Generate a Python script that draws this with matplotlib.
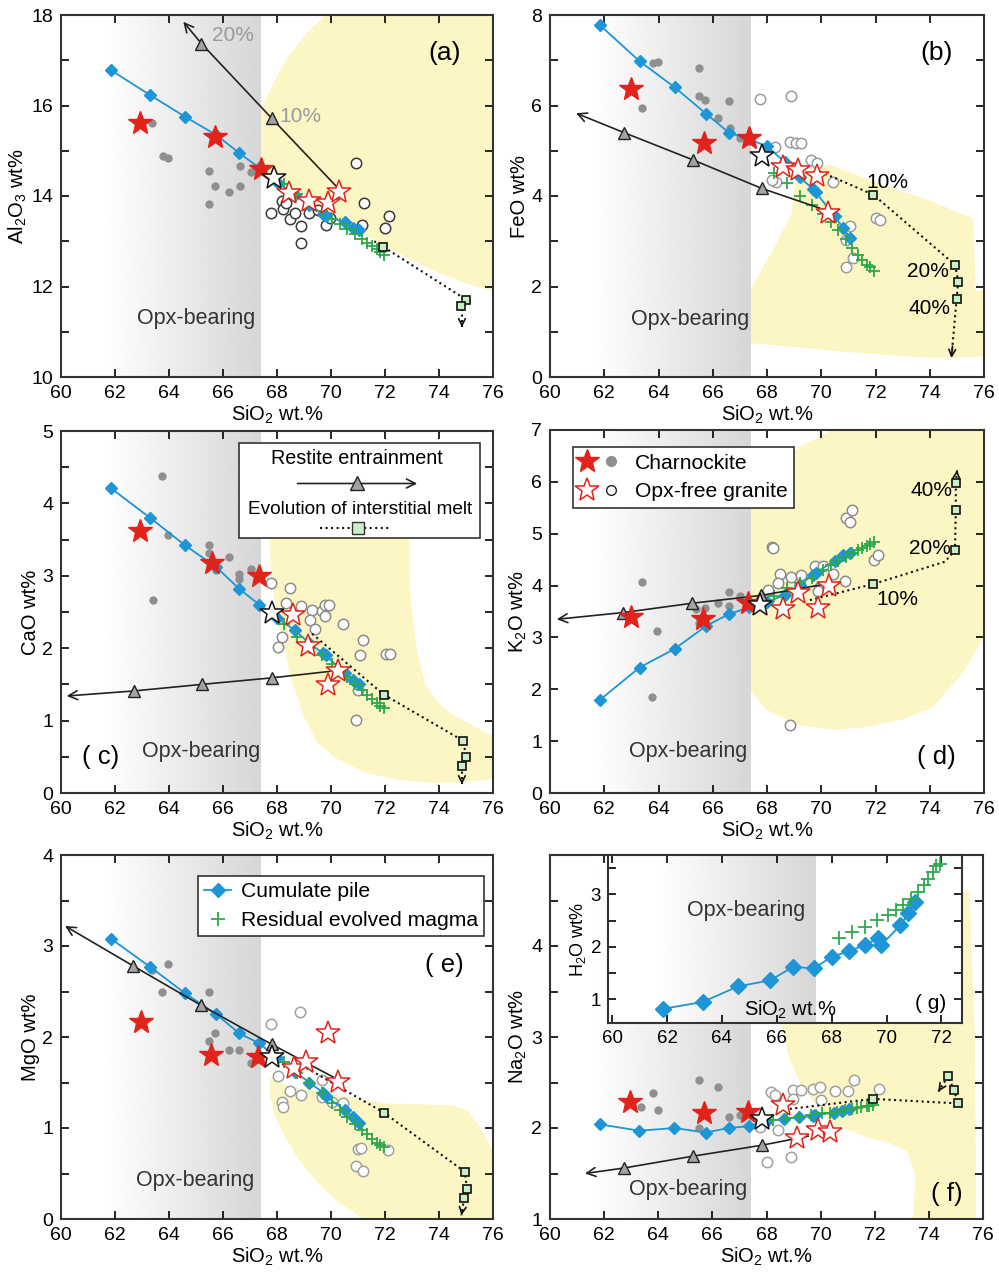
import numpy as np
import matplotlib
matplotlib.use('Agg')
import matplotlib.pyplot as plt
from matplotlib.patches import Polygon, Rectangle
from matplotlib.lines import Line2D
from matplotlib.legend_handler import HandlerTuple
from matplotlib.ticker import MultipleLocator

plt.rcParams['font.family'] = ['Liberation Sans', 'DejaVu Sans']
plt.rcParams['mathtext.fontset'] = 'custom'
plt.rcParams['mathtext.rm'] = 'Liberation Sans'
plt.rcParams['mathtext.it'] = 'Liberation Sans'

# ---- shared SiO2 values ----
cum_x = [61.85, 63.3, 64.6, 65.75, 66.6, 67.35, 68.0, 68.65, 69.2, 69.7, 69.8, 70.5, 70.8, 71.05]
res_x = [68.25, 68.75, 69.2, 69.65, 70.05, 70.35, 70.6, 70.9, 71.15, 71.35, 71.5, 71.7, 71.8, 71.95]

# ---- (a) Al2O3 ----
a_cum = [16.78, 16.23, 15.75, 15.35, 14.95, 14.62, 14.3, 14.03, 13.8, 13.6, 13.55, 13.42, 13.3, 13.25]
a_res = [14.27, 14.05, 13.85, 13.66, 13.5, 13.38, 13.28, 13.16, 13.05, 12.97, 12.9, 12.82, 12.77, 12.7]
a_chx = [62.92, 65.7, 67.4]
a_chy = [15.62, 15.31, 14.59]
a_cdx = [63.38, 63.79, 63.97, 65.49, 65.49, 65.7, 66.23, 66.62, 66.62, 67.02]
a_cdy = [15.62, 14.89, 14.84, 14.55, 13.83, 14.23, 14.08, 14.67, 14.23, 14.52]
a_grx = [68.44, 69.19, 69.89, 70.3]
a_gry = [14.06, 13.88, 13.84, 14.08]
a_gdx = [67.76, 68.17, 68.23, 68.33, 68.48, 68.66, 68.9, 68.9, 69.2, 69.52, 69.83, 69.95, 70.92, 71.21, 71.13, 71.99, 72.15]
a_gdy = [13.62, 13.9, 13.71, 13.84, 13.5, 13.62, 12.97, 13.34, 13.62, 13.69, 13.36, 13.51, 14.72, 13.84, 13.36, 13.29, 13.55]
a_ref = [67.9, 14.39]
a_rest_x = [70.2, 67.8, 65.2, 64.53]
a_rest_y = [14.21, 15.72, 17.37, 17.85]
a_melt_x = [71.6, 71.93, 74.9, 74.85, 74.85]
a_melt_y = [13.0, 12.88, 11.75, 11.5, 11.1]
a_sq_x = [71.93, 75.0, 74.83]
a_sq_y = [12.88, 11.71, 11.56]
a_yel_x = [69.8, 69.1, 68.5, 68.0, 67.6, 67.4, 67.4, 68.5, 70.0, 71.0, 72.0, 73.0, 74.0, 75.0, 76.0, 76.0]
a_yel_y = [18.0, 17.6, 17.15, 16.65, 16.15, 15.9, 14.6, 14.2, 13.6, 13.22, 12.88, 12.58, 12.3, 12.07, 11.9, 18.0]

# ---- (b) FeO ----
b_cum = [7.77, 6.98, 6.4, 5.82, 5.4, 5.25, 5.1, 4.75, 4.42, 4.15, 4.08, 3.55, 3.3, 3.08]
b_res = [4.5, 4.28, 4.0, 3.8, 3.6, 3.42, 3.25, 3.05, 2.85, 2.7, 2.58, 2.48, 2.42, 2.35]
b_chx = [62.99, 65.68, 67.35]
b_chy = [6.36, 5.17, 5.28]
b_cdx = [63.38, 63.78, 63.99, 65.49, 65.49, 65.71, 66.2, 66.61, 66.63, 67.0]
b_cdy = [5.94, 6.93, 6.97, 6.82, 6.2, 6.12, 5.72, 6.09, 5.5, 5.28]
b_grx = [68.6, 69.15, 69.86, 70.26]
b_gry = [4.65, 4.58, 4.44, 3.62]
b_gdx = [67.76, 68.87, 68.84, 69.07, 69.27, 68.3, 68.35, 68.17, 69.64, 69.83, 70.44, 72.01, 72.16, 71.06, 70.93, 71.18, 70.93]
b_gdy = [6.14, 6.2, 5.2, 5.18, 5.17, 5.09, 4.32, 4.36, 4.8, 4.72, 4.3, 3.51, 3.47, 3.33, 3.03, 2.63, 2.44]
b_ref = [67.8, 4.89]
b_rest_x = [69.95, 67.8, 65.26, 62.73, 60.96]
b_rest_y = [3.73, 4.17, 4.8, 5.4, 5.83]
b_melt_x = [69.95, 71.92, 74.93, 75.05, 74.99, 74.8]
b_melt_y = [4.54, 4.03, 2.48, 2.11, 1.73, 0.42]
b_sq_x = [71.92, 74.93, 75.05, 74.99]
b_sq_y = [4.03, 2.48, 2.11, 1.73]
b_yel_x = [67.4, 67.4, 68.3, 68.9, 69.0, 69.3, 70.3, 72.0, 74.0, 75.6, 75.7, 76.0, 76.0, 74.0, 71.0]
b_yel_y = [0.75, 1.95, 2.9, 3.6, 4.2, 4.5, 4.7, 4.3, 3.9, 3.5, 1.9, 1.9, 0.45, 0.42, 0.55]

# ---- (c) CaO ----
c_cum = [4.21, 3.8, 3.42, 3.12, 2.82, 2.6, 2.42, 2.25, 2.07, 1.93, 1.9, 1.66, 1.56, 1.5]
c_res = [2.34, 2.15, 2.0, 1.9, 1.78, 1.7, 1.6, 1.5, 1.42, 1.35, 1.3, 1.24, 1.2, 1.17]
c_chx = [62.92, 65.58, 67.34]
c_chy = [3.62, 3.17, 3.0]
c_cdx = [63.75, 63.42, 63.97, 65.49, 65.49, 65.74, 66.23, 66.6, 66.6, 67.02]
c_cdy = [4.38, 2.67, 3.57, 3.43, 3.31, 3.08, 3.26, 3.02, 2.96, 3.1]
c_grx = [68.6, 69.15, 70.26, 69.89]
c_gry = [2.46, 2.03, 1.68, 1.49]
c_gdx = [67.76, 68.48, 68.33, 68.9, 69.28, 69.22, 69.4, 69.65, 69.77, 69.93, 69.77, 70.45, 68.2, 68.04, 71.19, 71.09, 72.02, 72.18, 70.94, 71.0]
c_gdy = [2.9, 2.83, 2.63, 2.58, 2.53, 2.39, 2.27, 2.52, 2.6, 2.59, 2.44, 2.34, 2.15, 2.01, 2.12, 1.91, 1.92, 1.92, 1.01, 1.42]
c_ref = [67.8, 2.48]
c_rest_x = [69.96, 67.8, 65.21, 62.71, 60.21]
c_rest_y = [1.68, 1.59, 1.5, 1.41, 1.34]
c_melt_x = [69.3, 71.95, 74.9, 75.0, 74.85, 74.85]
c_melt_y = [2.2, 1.36, 0.72, 0.5, 0.37, 0.12]
c_sq_x = [71.95, 74.9, 75.0, 74.85]
c_sq_y = [1.36, 0.72, 0.5, 0.37]
c_yel_x = [67.7, 67.75, 67.85, 68.05, 68.5, 69.0, 69.5, 70.3, 71.3, 72.5, 73.8, 75.0, 76.0,
           76.0, 75.3, 74.5, 74.0, 73.5, 73.2, 73.0, 72.9, 72.9]
c_yel_y = [3.8, 3.2, 2.8, 2.39, 1.6, 1.05, 0.69, 0.45, 0.28, 0.18, 0.14, 0.15, 0.2,
           0.78, 0.92, 1.08, 1.24, 1.5, 1.93, 2.5, 3.0, 3.8]

# ---- (d) K2O ----
d_cum = [1.8, 2.42, 2.78, 3.22, 3.45, 3.58, 3.68, 3.82, 4.02, 4.2, 4.25, 4.48, 4.58, 4.63]
d_res = [3.8, 3.95, 4.05, 4.15, 4.3, 4.4, 4.48, 4.55, 4.62, 4.68, 4.72, 4.77, 4.8, 4.84]
d_chx = [62.99, 65.65, 67.31]
d_chy = [3.4, 3.35, 3.66]
d_cdx = [63.38, 63.93, 63.75, 65.4, 65.71, 65.49, 66.2, 66.61, 66.61, 67.0]
d_cdy = [4.06, 3.13, 1.86, 3.55, 3.56, 3.28, 3.66, 3.87, 3.61, 3.8]
d_grx = [68.6, 69.13, 69.89, 70.29]
d_gry = [3.55, 3.85, 3.56, 3.99]
d_gdx = [68.17, 68.23, 68.48, 68.42, 68.87, 69.27, 69.77, 70.07, 70.44, 69.95, 69.89, 70.93, 71.06, 71.12, 70.87, 71.94, 72.1, 68.85, 68.05]
d_gdy = [4.75, 4.72, 4.23, 4.05, 4.17, 4.21, 4.37, 4.37, 4.23, 3.98, 3.89, 5.3, 5.23, 5.46, 4.08, 4.5, 4.59, 1.32, 3.92]
d_ref = [67.74, 3.63]
d_rest_x = [69.95, 67.78, 65.25, 62.7, 60.25]
d_rest_y = [4.01, 3.81, 3.66, 3.48, 3.35]
d_melt_x = [69.58, 71.92, 74.56, 74.93, 74.96, 74.96, 75.01]
d_melt_y = [3.72, 4.03, 4.46, 4.68, 5.45, 5.97, 6.23]
d_sq_x = [71.92, 74.93, 74.96, 74.96]
d_sq_y = [4.03, 4.68, 5.45, 5.97]
d_yel_x = [70.4, 69.3, 68.4, 67.8, 67.4, 67.4, 68.0, 69.2, 70.5, 71.7, 73.0, 74.1, 75.2, 76.0, 76.0]
d_yel_y = [7.0, 6.7, 6.38, 5.95, 5.5, 1.95, 1.6, 1.3, 1.22, 1.27, 1.42, 1.65, 2.3, 3.0, 7.0]

# ---- (e) MgO ----
e_cum = [3.08, 2.77, 2.48, 2.25, 2.04, 1.93, 1.77, 1.62, 1.5, 1.39, 1.35, 1.2, 1.12, 1.05]
e_res = [1.72, 1.6, 1.5, 1.38, 1.28, 1.2, 1.12, 1.04, 0.98, 0.93, 0.88, 0.84, 0.81, 0.79]
e_chx = [62.96, 65.54, 67.28]
e_chy = [2.16, 1.8, 1.78]
e_cdx = [63.36, 63.97, 63.75, 65.49, 65.49, 65.7, 66.23, 66.6, 66.6, 67.02]
e_cdy = [2.74, 2.8, 2.5, 2.5, 1.96, 2.04, 1.86, 1.86, 2.06, 1.71]
e_grx = [68.64, 69.09, 69.89, 70.26]
e_gry = [1.66, 1.73, 2.04, 1.51]
e_gdx = [67.76, 68.85, 68.02, 68.48, 68.2, 68.23, 68.9, 69.65, 70.02, 70.45, 71.0, 71.1, 70.92, 71.19, 72.11, 69.65]
e_gdy = [2.14, 2.27, 1.57, 1.41, 1.29, 1.23, 1.36, 1.34, 1.29, 1.27, 0.77, 0.78, 0.58, 0.53, 0.76, 1.53]
e_ref = [67.8, 1.78]
e_rest_x = [70.08, 67.8, 65.18, 62.68, 60.15]
e_rest_y = [1.56, 1.92, 2.35, 2.78, 3.22]
e_melt_x = [69.09, 71.95, 74.95, 75.04, 74.93, 74.83]
e_melt_y = [1.66, 1.17, 0.52, 0.33, 0.23, 0.04]
e_sq_x = [71.95, 74.95, 75.04, 74.93]
e_sq_y = [1.17, 0.52, 0.33, 0.23]
e_yel_x = [67.75, 68.5, 70.0, 72.0, 74.5, 75.1, 75.5, 76.0, 76.0, 71.2, 70.2, 69.5, 68.8, 68.3, 67.9, 67.75]
e_yel_y = [1.55, 1.45, 1.38, 1.27, 1.25, 1.18, 1.02, 0.75, 0.0, 0.0, 0.2, 0.4, 0.65, 0.9, 1.15, 1.35]

# ---- (f) Na2O ----
f_cum = [2.04, 1.97, 2.0, 1.95, 2.0, 2.02, 2.08, 2.1, 2.12, 2.13, 2.14, 2.17, 2.19, 2.21]
f_res = [2.09, 2.11, 2.12, 2.14, 2.16, 2.17, 2.18, 2.2, 2.21, 2.22, 2.23, 2.24, 2.24, 2.25]
f_chx = [62.95, 65.69, 67.32]
f_chy = [2.29, 2.16, 2.18]
f_cdx = [63.38, 63.79, 63.98, 65.5, 65.5, 66.22, 66.62, 66.62, 67.02]
f_cdy = [2.23, 2.38, 2.2, 2.53, 2.0, 2.45, 2.12, 2.0, 2.14]
f_grx = [68.62, 69.14, 69.91, 70.34]
f_gry = [2.25, 1.89, 1.98, 1.96]
f_gdx = [68.15, 68.31, 68.98, 69.29, 69.72, 69.97, 70.52, 71.02, 71.22, 72.15, 67.75, 68.43, 68.0, 68.89, 68.98, 70.03]
f_gdy = [2.4, 2.36, 2.42, 2.42, 2.43, 2.45, 2.41, 2.41, 2.53, 2.43, 2.01, 1.98, 1.63, 1.68, 2.32, 2.31]
f_ref = [67.82, 2.1]
f_rest_x = [69.54, 67.82, 65.27, 62.73, 61.29]
f_rest_y = [1.91, 1.81, 1.69, 1.56, 1.5]
f_melt_x = [68.86, 71.94, 75.08, 74.92, 74.71, 74.35]
f_melt_y = [2.21, 2.32, 2.27, 2.42, 2.57, 2.4]
f_sq_x = [71.94, 74.71, 74.92, 75.08]
f_sq_y = [2.32, 2.57, 2.42, 2.27]
f_yel_x = [68.4, 68.8, 69.3, 70.4, 71.7, 72.6, 73.2, 73.5, 73.45, 73.4, 75.75, 75.7, 75.5, 68.4]
f_yel_y = [3.3, 2.8, 2.45, 2.05, 1.9, 1.83, 1.74, 1.5, 1.2, 1.0, 1.0, 3.0, 4.6, 4.6]

# ---- (g) H2O inset ----
g_cum = [0.82, 0.95, 1.25, 1.36, 1.62, 1.59, 1.81, 1.92, 2.04, 2.16, 2.03, 2.41, 2.64, 2.86]
g_res = [2.16, 2.29, 2.38, 2.51, 2.6, 2.7, 2.8, 2.92, 3.05, 3.18, 3.3, 3.43, 3.54, 3.58]

BLUE = '#1d95d6'
GREEN = '#2ea84c'
RED = '#e0241b'
YELLOW = '#fcf6c4'
SQ_FILL = '#c9efc4'
TXT = 14
OPX = 15.5
LAB = 14.5


def opx_shade(ax, y0, y1, x1=67.4):
    xs = np.linspace(60, x1, 300)
    t = np.clip((xs - 61.6) / (x1 - 61.6), 0, 1)
    shade = 1 - 0.16 * t
    ax.imshow(shade[None, :], cmap='gray', vmin=0, vmax=1, aspect='auto',
              extent=[60, x1, y0, y1], zorder=0.5, interpolation='bilinear')


def style(ax, ylim, ymaj, ymin, ylabel):
    ax.set_xlim(60, 76)
    ax.set_ylim(*ylim)
    ax.xaxis.set_major_locator(MultipleLocator(2))
    ax.yaxis.set_major_locator(MultipleLocator(ymaj))
    if ymin:
        ax.yaxis.set_minor_locator(MultipleLocator(ymin))
    ax.tick_params(which='both', direction='in', top=True, right=True,
                   length=6, width=1.2, labelsize=TXT, pad=5.5)
    for s in ax.spines.values():
        s.set_linewidth(1.5)
        s.set_color('#333333')
    ax.set_xlabel('SiO$_2$ wt.%', fontsize=LAB, labelpad=1.5)
    ax.set_ylabel(ylabel, fontsize=LAB, labelpad=1.5)


def panel(ax, ylim, yel_x, yel_y, cum_y, res_y, chx, chy, cdx, cdy, grx, gry,
          gdx, gdy, ref, rest_x, rest_y, melt_x, melt_y, sq_x, sq_y, circ_edge='#8c8c8c'):
    ax.add_patch(Polygon(np.column_stack([yel_x, yel_y]), closed=True,
                         fc=YELLOW, ec='none', zorder=0.2))
    opx_shade(ax, ylim[0], ylim[1])
    # open granite circles and charnockite dots
    ax.plot(gdx, gdy, 'o', ms=7.5, mfc='white', mec=circ_edge, mew=1.1, ls='none', zorder=2)
    ax.plot(cdx, cdy, 'o', ms=6, mfc='#8f8f8f', mec='none', ls='none', zorder=2)
    # cumulate pile / residual magma
    ax.plot(cum_x, cum_y, '-', color=BLUE, lw=1.3, zorder=3)
    ax.plot(cum_x, cum_y, 'D', ms=6.3, color=BLUE, ls='none', zorder=3.2)
    ax.plot(res_x, res_y, '+', ms=8.5, mew=1.3, color=GREEN, ls='none', zorder=3.4)
    # restite entrainment
    ax.plot(rest_x[:-1], rest_y[:-1], '-', color='#222222', lw=1.2, zorder=3.5)
    ax.annotate('', xy=(rest_x[-1], rest_y[-1]), xytext=(rest_x[-2], rest_y[-2]),
                arrowprops=dict(arrowstyle='->', color='#222222', lw=1.2,
                                mutation_scale=16, shrinkA=0, shrinkB=0), zorder=3.5)
    ax.plot(rest_x[1:-1], rest_y[1:-1], '^', ms=9, mfc='#a3a3a3', mec='#222222',
            mew=1.0, ls='none', zorder=4.5)
    # interstitial melt
    ax.plot(melt_x[:-1], melt_y[:-1], ':', color='#111111', lw=1.5, zorder=3.6)
    xa, ya = melt_x[-2], melt_y[-2]
    ax.plot([xa, melt_x[-1]], [ya, melt_y[-1]], ':', color='#111111', lw=1.5, zorder=3.6)
    ax.annotate('', xy=(melt_x[-1], melt_y[-1]),
                xytext=(xa + 0.8 * (melt_x[-1] - xa), ya + 0.8 * (melt_y[-1] - ya)),
                arrowprops=dict(arrowstyle='->', color='#111111', lw=1.2,
                                mutation_scale=12, shrinkA=0, shrinkB=0), zorder=3.6)
    ax.plot(sq_x, sq_y, 's', ms=6, mfc=SQ_FILL, mec='#111111', mew=1.2, ls='none', zorder=4.6)
    # stars
    ax.plot(grx, gry, '*', ms=18, mfc='white', mec=RED, mew=1.1, ls='none', zorder=5)
    ax.plot(chx, chy, '*', ms=18, color=RED, mec=RED, ls='none', zorder=5)
    ax.plot([ref[0]], [ref[1]], '*', ms=18, mfc='white', mec='#111111', mew=1.1, zorder=5.2)


W, H = 999, 1279
fig = plt.figure(figsize=(W / 100, H / 100), dpi=100)


def box(l, t, r, b):
    return fig.add_axes([l / W, 1 - b / H, (r - l) / W, (b - t) / H])


ax_a = box(61, 15, 493, 377)
ax_b = box(550, 15, 984, 377)
ax_c = box(61, 431, 493, 793)
ax_d = box(550, 430, 984, 793)
ax_e = box(61, 855, 493, 1219)
ax_f = box(550, 855, 983, 1219)

# (a)
panel(ax_a, (10, 18), a_yel_x, a_yel_y, a_cum, a_res, a_chx, a_chy, a_cdx, a_cdy,
      a_grx, a_gry, a_gdx, a_gdy, a_ref, a_rest_x, a_rest_y, a_melt_x, a_melt_y,
      a_sq_x, a_sq_y, circ_edge='#3a3a3a')
style(ax_a, (10, 18), 2, 1, 'Al$_2$O$_3$ wt%')
ax_a.text(65.6, 17.55, '20%', color='#9a9a9a', fontsize=15, va='center')
ax_a.text(68.1, 15.75, '10%', color='#9a9a9a', fontsize=15, va='center')
ax_a.text(74.2, 17.15, '(a)', fontsize=19, ha='center', va='center')
ax_a.text(65.0, 11.3, 'Opx-bearing', fontsize=OPX, ha='center', va='center', color='#333333')

# (b)
panel(ax_b, (0, 8), b_yel_x, b_yel_y, b_cum, b_res, b_chx, b_chy, b_cdx, b_cdy,
      b_grx, b_gry, b_gdx, b_gdy, b_ref, b_rest_x, b_rest_y, b_melt_x, b_melt_y,
      b_sq_x, b_sq_y, circ_edge='#9a9a9a')
style(ax_b, (0, 8), 2, 1, 'FeO wt%')
ax_b.text(72.45, 4.3, '10%', fontsize=15, ha='center', va='center')
ax_b.text(73.95, 2.33, '20%', fontsize=15, ha='center', va='center')
ax_b.text(74.0, 1.52, '40%', fontsize=15, ha='center', va='center')
ax_b.text(74.25, 7.15, '(b)', fontsize=19, ha='center', va='center')
ax_b.text(65.15, 1.27, 'Opx-bearing', fontsize=OPX, ha='center', va='center', color='#333333')

# (c)
panel(ax_c, (0, 5), c_yel_x, c_yel_y, c_cum, c_res, c_chx, c_chy, c_cdx, c_cdy,
      c_grx, c_gry, c_gdx, c_gdy, c_ref, c_rest_x, c_rest_y, c_melt_x, c_melt_y,
      c_sq_x, c_sq_y)
style(ax_c, (0, 5), 1, 0.5, 'CaO wt%')
ax_c.text(61.45, 0.5, '( c)', fontsize=18.5, ha='center', va='center')
ax_c.text(65.2, 0.58, 'Opx-bearing', fontsize=OPX, ha='center', va='center', color='#333333')
# custom key for the two model trends
ax_c.add_patch(Rectangle((0.4125, 0.704), 0.5565, 0.262, transform=ax_c.transAxes,
                         fc='white', ec='#333333', lw=1.2, zorder=6))
ax_c.text(0.684, 0.924, 'Restite entrainment', transform=ax_c.transAxes, fontsize=14.2,
          ha='center', va='center', zorder=7)
ax_c.annotate('', xy=(0.831, 0.855), xytext=(0.541, 0.855), xycoords='axes fraction',
              arrowprops=dict(arrowstyle='->', color='#222222', lw=1.2, mutation_scale=16),
              zorder=7)
ax_c.plot([0.686], [0.855], '^', ms=10, mfc='#a3a3a3', mec='#222222', mew=1.0,
          transform=ax_c.transAxes, zorder=8)
ax_c.text(0.6925, 0.783, 'Evolution of interstitial melt', transform=ax_c.transAxes,
          fontsize=13.7, ha='center', va='center', zorder=7)
ax_c.plot([0.599, 0.765], [0.731, 0.731], ':', color='#111111', lw=1.5,
          transform=ax_c.transAxes, zorder=7)
ax_c.plot([0.6875], [0.731], 's', ms=8, mfc=SQ_FILL, mec='#333333', mew=1.0,
          transform=ax_c.transAxes, zorder=8)

# (d)
panel(ax_d, (0, 7), d_yel_x, d_yel_y, d_cum, d_res, d_chx, d_chy, d_cdx, d_cdy,
      d_grx, d_gry, d_gdx, d_gdy, d_ref, d_rest_x, d_rest_y, d_melt_x, d_melt_y,
      d_sq_x, d_sq_y)
style(ax_d, (0, 7), 1, None, 'K$_2$O wt%')
ax_d.text(72.8, 3.73, '10%', fontsize=15, ha='center', va='center')
ax_d.text(74.0, 4.72, '20%', fontsize=15, ha='center', va='center')
ax_d.text(74.05, 5.84, '40%', fontsize=15, ha='center', va='center')
ax_d.text(74.25, 0.7, '( d)', fontsize=18.5, ha='center', va='center')
ax_d.text(65.1, 0.8, 'Opx-bearing', fontsize=OPX, ha='center', va='center', color='#333333')
h_ch = (Line2D([], [], marker='*', ms=18, color=RED, ls='none'),
        Line2D([], [], marker='o', ms=7, color='#8f8f8f', ls='none'))
h_gr = (Line2D([], [], marker='*', ms=18, mfc='white', mec=RED, mew=1.1, ls='none'),
        Line2D([], [], marker='o', ms=7, mfc='white', mec='#222222', mew=1.0, ls='none'))
leg = ax_d.legend([h_ch, h_gr], ['Charnockite', 'Opx-free granite'],
                  handler_map={tuple: HandlerTuple(ndivide=None, pad=0.4)},
                  loc='upper left', bbox_to_anchor=(0.052, 0.952), borderaxespad=0,
                  fontsize=15.2, handlelength=1.9, handletextpad=0.75, labelspacing=0.45,
                  borderpad=0.3, fancybox=False, framealpha=1, edgecolor='#333333')
leg.get_frame().set_linewidth(1.2)
leg.set_zorder(7)

# (e)
panel(ax_e, (0, 4), e_yel_x, e_yel_y, e_cum, e_res, e_chx, e_chy, e_cdx, e_cdy,
      e_grx, e_gry, e_gdx, e_gdy, e_ref, e_rest_x, e_rest_y, e_melt_x, e_melt_y,
      e_sq_x, e_sq_y, circ_edge='#a0a0a0')
style(ax_e, (0, 4), 1, 0.5, 'MgO wt%')
ax_e.text(74.2, 2.79, '( e)', fontsize=18.5, ha='center', va='center')
ax_e.text(64.95, 0.42, 'Opx-bearing', fontsize=OPX, ha='center', va='center', color='#333333')
h_cum = Line2D([], [], marker='D', ms=7, color=BLUE, lw=1.3)
h_res = Line2D([], [], marker='+', ms=10, mew=1.3, color=GREEN, ls='none')
leg = ax_e.legend([h_cum, h_res], ['Cumulate pile', 'Residual evolved magma'],
                  loc='upper left', bbox_to_anchor=(0.316, 0.942), borderaxespad=0,
                  fontsize=15.2, handlelength=1.3, handletextpad=0.45, labelspacing=0.45,
                  borderpad=0.3, fancybox=False, framealpha=1, edgecolor='#333333')
leg.get_frame().set_linewidth(1.2)
leg.set_zorder(7)

# (f)
panel(ax_f, (1, 5), f_yel_x, f_yel_y, f_cum, f_res, f_chx, f_chy, f_cdx, f_cdy,
      f_grx, f_gry, f_gdx, f_gdy, f_ref, f_rest_x, f_rest_y, f_melt_x, f_melt_y,
      f_sq_x, f_sq_y, circ_edge='#a0a0a0')
style(ax_f, (1, 5), 1, 0.5, 'Na$_2$O wt%')
ax_f.set_yticks([1, 2, 3, 4])
ax_f.text(74.65, 1.28, '( f)', fontsize=18.5, ha='center', va='center')
ax_f.text(65.1, 1.32, 'Opx-bearing', fontsize=OPX, ha='center', va='center', color='#333333')

# (g) inset
ax_g = box(608, 855, 962, 1023)
ax_g.set_facecolor('white')
ax_g.set_zorder(10)
ax_g.set_xlim(59.85, 72.75)
ax_g.set_ylim(0.55, 3.75)
opx_shade(ax_g, 0.55, 3.75)
ax_g.plot(cum_x, g_cum, '-', color=BLUE, lw=1.3, zorder=3)
ax_g.plot(cum_x, g_cum, 'D', ms=8, color=BLUE, ls='none', zorder=3.2)
ax_g.plot(res_x, g_res, '+', ms=10, mew=1.3, color=GREEN, ls='none', zorder=3.4)
ax_g.xaxis.set_major_locator(MultipleLocator(2))
ax_g.yaxis.set_major_locator(MultipleLocator(1))
ax_g.yaxis.set_minor_locator(MultipleLocator(0.5))
ax_g.tick_params(which='both', direction='in', top=True, right=True,
                 length=6, width=1.2, labelsize=13.5, pad=5)
for s in ax_g.spines.values():
    s.set_linewidth(1.5)
    s.set_color('#333333')
ax_g.set_ylabel('H$_2$O wt%', fontsize=13, labelpad=2)
ax_g.text(66.5, 0.8, 'SiO$_2$ wt.%', fontsize=LAB, ha='center', va='center')
ax_g.text(64.9, 2.7, 'Opx-bearing', fontsize=OPX, ha='center', va='center', color='#333333')
ax_g.text(71.6, 0.93, '( g)', fontsize=15, ha='center', va='center')

fig.savefig('out.png', dpi=100)
